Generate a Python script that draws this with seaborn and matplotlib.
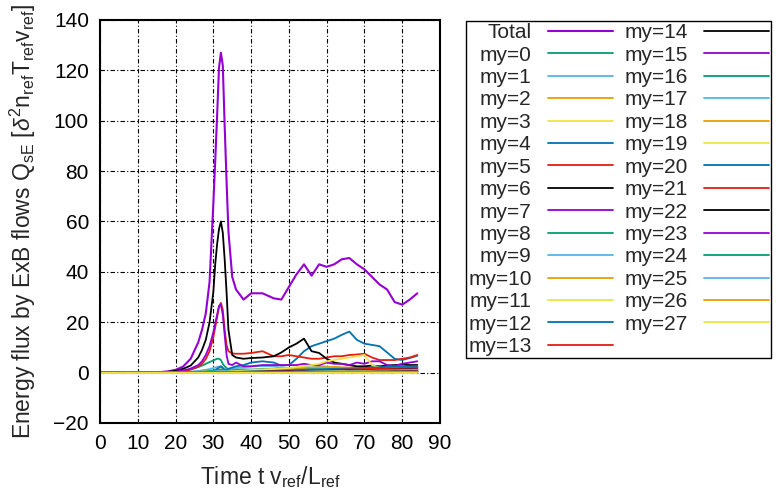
import matplotlib
matplotlib.use("Agg")
import matplotlib.pyplot as plt
import seaborn as sns

# time axis (t v_ref / L_ref)
time = [0, 10, 15, 18, 20, 22, 24, 26, 27, 28,
        29, 30, 30.5, 31, 31.5, 32, 32.5, 33, 33.5, 34,
        35, 36, 38, 40, 43, 46, 48, 50, 52, 54,
        56, 58, 60, 62, 64, 66, 68, 70, 72, 74,
        76, 78, 80, 82, 84]

total = [0, 0, 0.1, 0.5, 1.1, 2.4, 5.5, 12, 17, 23.5,
         36, 67, 84, 102, 121, 127, 122, 98, 76, 56,
         38, 33, 29, 31.5, 31.5, 29.5, 29, 34, 39, 43,
         38.5, 43, 42, 43, 45, 45.5, 43, 41, 38, 35,
         33, 28, 27, 29, 31.5]

my0 = [0, 0, 0, 0.1, 0.3, 0.7, 1.3, 2.2, 2.8, 3.5,
       4.2, 4.8, 5.2, 5.5, 5.5, 5, 3.5, 2.5, 1.8, 1.5,
       1.2, 1.2, 1.3, 1.2, 1.4, 1.3, 1.2, 1.4, 1.3, 1.5,
       1.4, 1.2, 1.3, 1.5, 1.4, 1.3, 1.2, 1.3, 1.4, 1.5,
       1.6, 1.5, 1.6, 1.8, 2]
my1 = [0, 0, 0, 0, 0.1, 0.2, 0.4, 0.7, 0.9, 1.1,
       1.4, 1.8, 2, 2.2, 2.4, 2.5, 2, 1.5, 1.3, 1.2,
       1.4, 1.8, 2.2, 2.5, 2.6, 2.4, 2, 1.8, 2, 2.5,
       2.8, 2.6, 2.4, 2.2, 2, 1.9, 1.7, 1.6, 1.5, 1.4,
       1.3, 1.5, 1.7, 2, 2.2]
my2 = [0, 0, 0, 0, 0, 0.1, 0.2, 0.3, 0.4, 0.5,
       0.7, 0.9, 1, 1.1, 1.2, 1.3, 1, 0.8, 0.7, 0.6,
       0.7, 0.8, 1, 1.1, 1.2, 1.3, 1.4, 1.5, 1.6, 1.8,
       2, 2.1, 2.2, 2.3, 2.1, 2, 2.2, 2.4, 2, 1.8,
       1.6, 1.7, 1.9, 2.1, 2.3]
my3 = [0, 0, 0, 0, 0, 0, 0.1, 0.1, 0.15, 0.2,
       0.3, 0.4, 0.45, 0.5, 0.55, 0.6, 0.5, 0.4, 0.35, 0.3,
       0.3, 0.4, 0.5, 0.6, 0.7, 0.8, 0.8, 0.9, 1, 1.1,
       1.2, 1.3, 1.4, 1.5, 1.6, 1.7, 1.8, 1.9, 1.7, 1.5,
       1.4, 1.3, 1.4, 1.5, 1.6]
my4 = [0, 0, 0, 0, 0, 0, 0, 0.1, 0.15, 0.2,
       0.3, 0.5, 1, 1.5, 2, 2.5, 1.8, 1, 1.2, 1.5,
       2, 2.5, 3, 4, 4.5, 4, 2.8, 3, 5.5, 8.5,
       10.5, 11.5, 12.5, 13.5, 15, 16.3, 13, 11.5, 11, 10.5,
       8, 5.5, 5, 5.8, 6.7]
my5 = [0, 0, 0, 0.1, 0.3, 0.6, 1.2, 2.3, 3.5, 5.4,
       8.5, 14, 18, 22, 26, 27.7, 25, 17, 11, 8.5,
       7.6, 7.5, 7.5, 7.8, 8.5, 6.5, 6.5, 7, 6.5, 6,
       5.5, 5.5, 6, 6.5, 6.5, 7, 7.2, 7.5, 6, 5,
       5, 5, 5.5, 6, 7]
my6 = [0, 0, 0, 0.3, 0.7, 1.5, 2.8, 6, 9, 13,
       20, 32, 43, 51, 57, 60, 55.6, 45, 32, 17,
       7, 6, 5.5, 5.8, 6, 6.5, 8, 10, 11.5, 13.5,
       8.5, 7.8, 5.5, 4, 3.5, 3, 2.5, 2.5, 2.8, 2.5,
       2.8, 3, 3.2, 3, 3]
my7 = [0, 0, 0, 0.1, 0.3, 0.8, 1.6, 3, 4.5, 7,
       10.5, 16, 19.5, 23, 26.5, 27, 23, 15, 7, 3.5,
       3, 4, 2.5, 2.5, 3, 3, 3, 3, 3, 3.5,
       3, 3, 4, 3.5, 3.5, 3, 4, 3.5, 4.5, 4.5,
       3, 2.7, 3.5, 4, 4.5]
my8 = [0, 0, 0, 0, 0, 0, 0.1, 0.2, 0.3, 0.4,
       0.6, 0.8, 0.9, 1, 1.1, 1.2, 1, 0.9, 0.8, 0.7,
       0.8, 0.9, 1, 1.1, 1, 0.9, 1, 1.1, 1.2, 1.3,
       1.4, 1.3, 1.2, 1.1, 1.2, 1.3, 1.4, 1.3, 1.2, 1.1,
       1.2, 1.3, 1.4, 1.5, 1.6]
my9 = [0, 0, 0, 0, 0, 0, 0, 0.1, 0.15, 0.2,
       0.3, 0.4, 0.5, 0.6, 0.7, 0.8, 0.7, 0.6, 0.55, 0.5,
       0.6, 0.7, 0.8, 0.9, 1, 1.1, 1.1, 1, 1, 0.9,
       1, 1.1, 1.2, 1.3, 1.4, 1.3, 1.2, 1.1, 1.2, 1.3,
       1.4, 1.3, 1.2, 1.3, 1.4]
my10 = [0, 0, 0, 0, 0, 0, 0, 0, 0.05, 0.1,
        0.1, 0.2, 0.25, 0.3, 0.35, 0.4, 0.35, 0.3, 0.3, 0.3,
        0.4, 0.5, 0.6, 0.7, 0.8, 0.9, 1, 1.1, 1.2, 1.3,
        1.2, 1.1, 1, 1.1, 1.2, 1.3, 1.4, 1.3, 1.2, 1.1,
        1, 1.1, 1.2, 1.3, 1.4]
my11 = [0, 0, 0, 0, 0, 0, 0, 0, 0, 0,
        0, 0, 0.05, 0.1, 0.15, 0.2, 0.25, 0.3, 0.35, 0.4,
        0.5, 0.6, 0.8, 1, 1.2, 1.4, 1.6, 1.8, 2.2, 2.6,
        3, 3.5, 4.5, 5, 5.5, 6, 6.5, 7, 3, 2,
        1.8, 1.6, 1.5, 1.4, 1.5]
my12 = [0, 0, 0, 0, 0, 0, 0, 0, 0, 0,
        0.1, 0.1, 0.15, 0.2, 0.25, 0.3, 0.25, 0.2, 0.2, 0.2,
        0.3, 0.3, 0.4, 0.5, 0.6, 0.7, 0.8, 0.9, 1, 1.1,
        1.2, 1.3, 1.4, 1.5, 1.6, 1.7, 1.8, 1.9, 2, 2.1,
        2.2, 2.3, 2.4, 2.5, 2.6]
my13 = [0, 0, 0, 0, 0, 0, 0, 0, 0, 0,
        0, 0.1, 0.1, 0.1, 0.15, 0.2, 0.15, 0.1, 0.1, 0.1,
        0.2, 0.2, 0.3, 0.3, 0.4, 0.5, 0.5, 0.6, 0.7, 0.8,
        0.9, 1, 1, 1.1, 1.2, 1.3, 1.3, 1.4, 1.5, 1.5,
        1.6, 1.7, 1.8, 1.9, 2]
my14 = [0, 0, 0, 0, 0, 0, 0, 0, 0, 0,
        0, 0, 0, 0.1, 0.1, 0.1, 0.1, 0.1, 0.1, 0.1,
        0.1, 0.2, 0.2, 0.3, 0.3, 0.4, 0.4, 0.5, 0.5, 0.6,
        0.6, 0.7, 0.7, 0.8, 0.8, 0.9, 0.9, 1, 1, 1.1,
        1.1, 1.2, 1.2, 1.3, 1.3]
my15 = [0, 0, 0, 0, 0, 0, 0, 0, 0, 0,
        0, 0, 0, 0, 0, 0.1, 0.1, 0.1, 0.1, 0.1,
        0.1, 0.1, 0.2, 0.2, 0.3, 0.3, 0.4, 0.4, 0.5, 0.5,
        0.6, 0.6, 0.7, 0.7, 0.8, 0.8, 0.9, 0.9, 1, 1,
        1, 1.1, 1.1, 1.2, 1.2]
my16 = [0, 0, 0, 0, 0, 0, 0, 0, 0, 0,
        0, 0, 0, 0, 0, 0, 0, 0.1, 0.1, 0.1,
        0.1, 0.1, 0.1, 0.2, 0.2, 0.2, 0.3, 0.3, 0.4, 0.4,
        0.5, 0.5, 0.6, 0.6, 0.7, 0.7, 0.8, 0.8, 0.8, 0.9,
        0.9, 1, 1, 1, 1.1]
my17 = [0, 0, 0, 0, 0, 0, 0, 0, 0, 0,
        0, 0, 0, 0, 0, 0, 0, 0, 0, 0.1,
        0.1, 0.1, 0.1, 0.1, 0.2, 0.2, 0.2, 0.3, 0.3, 0.3,
        0.4, 0.4, 0.5, 0.5, 0.6, 0.6, 0.6, 0.7, 0.7, 0.8,
        0.8, 0.8, 0.9, 0.9, 1]
my18 = [0, 0, 0, 0, 0, 0, 0, 0, 0, 0,
        0, 0, 0, 0, 0, 0, 0, 0, 0, 0,
        0.1, 0.1, 0.1, 0.1, 0.1, 0.2, 0.2, 0.2, 0.3, 0.3,
        0.3, 0.4, 0.4, 0.4, 0.5, 0.5, 0.5, 0.6, 0.6, 0.6,
        0.7, 0.7, 0.7, 0.8, 0.8]
my19 = [0, 0, 0, 0, 0, 0, 0, 0, 0, 0,
        0, 0, 0, 0, 0, 0, 0, 0, 0, 0,
        0, 0.1, 0.1, 0.1, 0.1, 0.1, 0.2, 0.2, 0.2, 0.2,
        0.3, 0.3, 0.3, 0.4, 0.4, 0.4, 0.5, 0.5, 0.5, 0.5,
        0.6, 0.6, 0.6, 0.7, 0.7]
my20 = [0, 0, 0, 0, 0, 0, 0, 0, 0, 0,
        0, 0, 0, 0, 0, 0, 0, 0, 0, 0,
        0, 0, 0.1, 0.1, 0.1, 0.1, 0.1, 0.2, 0.2, 0.2,
        0.2, 0.3, 0.3, 0.3, 0.3, 0.4, 0.4, 0.4, 0.4, 0.5,
        0.5, 0.5, 0.5, 0.6, 0.6]
my21 = [0, 0, 0, 0, 0, 0, 0, 0, 0, 0,
        0, 0, 0, 0, 0, 0, 0, 0, 0, 0,
        0, 0, 0, 0.1, 0.1, 0.1, 0.1, 0.1, 0.2, 0.2,
        0.2, 0.2, 0.2, 0.3, 0.3, 0.3, 0.3, 0.3, 0.4, 0.4,
        0.4, 0.4, 0.4, 0.5, 0.5]
my22 = [0, 0, 0, 0, 0, 0, 0, 0, 0, 0,
        0, 0, 0, 0, 0, 0, 0, 0, 0, 0,
        0, 0, 0, 0, 0.1, 0.1, 0.1, 0.1, 0.1, 0.1,
        0.2, 0.2, 0.2, 0.2, 0.2, 0.3, 0.3, 0.3, 0.3, 0.3,
        0.3, 0.4, 0.4, 0.4, 0.4]
my23 = [0, 0, 0, 0, 0, 0, 0, 0, 0, 0,
        0, 0, 0, 0, 0, 0, 0, 0, 0, 0,
        0, 0, 0, 0, 0, 0.1, 0.1, 0.1, 0.1, 0.1,
        0.1, 0.1, 0.2, 0.2, 0.2, 0.2, 0.2, 0.2, 0.3, 0.3,
        0.3, 0.3, 0.3, 0.3, 0.3]
my24 = [0, 0, 0, 0, 0, 0, 0, 0, 0, 0,
        0, 0, 0, 0, 0, 0, 0, 0, 0, 0,
        0, 0, 0, 0, 0, 0, 0.1, 0.1, 0.1, 0.1,
        0.1, 0.1, 0.1, 0.1, 0.2, 0.2, 0.2, 0.2, 0.2, 0.2,
        0.2, 0.2, 0.2, 0.2, 0.2]
my25 = [0, 0, 0, 0, 0, 0, 0, 0, 0, 0,
        0, 0, 0, 0, 0, 0, 0, 0, 0, 0,
        0, 0, 0, 0, 0, 0, 0, 0, 0.1, 0.1,
        0.1, 0.1, 0.1, 0.1, 0.1, 0.1, 0.1, 0.1, 0.1, 0.1,
        0.1, 0.1, 0.1, 0.1, 0.1]
my26 = [0, 0, 0, 0, 0, 0, 0, 0, 0, 0,
        0, 0, 0, 0, 0, 0, 0, 0, 0, 0,
        0, 0, 0, 0, 0, 0, 0, 0, 0, 0,
        0, 0.1, 0.1, 0.1, 0.1, 0.1, 0.1, 0.1, 0.1, 0.1,
        0.1, 0.1, 0.1, 0.1, 0.1]
my27 = [0, 0, 0, 0, 0, 0, 0, 0, 0, 0,
        0, 0, 0, 0, 0, 0, 0, 0, 0, 0,
        0, 0, 0, 0, 0, 0, 0, 0, 0, 0,
        0, 0, 0, 0, 0, 0, 0, 0, 0, 0,
        0, 0, 0, 0, 0]

modes = [my0, my1, my2, my3, my4, my5, my6, my7, my8, my9,
         my10, my11, my12, my13, my14, my15, my16, my17, my18, my19,
         my20, my21, my22, my23, my24, my25, my26, my27]

# gnuplot-style default line colours
colors = ["#9400d3", "#009e73", "#56b4e9", "#e69f00",
          "#f0e442", "#0072b2", "#e51e10", "#000000"]

sns.set_style("white")
plt.rcParams["font.family"] = ["Liberation Sans", "DejaVu Sans"]
plt.rcParams["mathtext.fontset"] = "custom"
plt.rcParams["mathtext.rm"] = "Liberation Sans"
plt.rcParams["mathtext.it"] = "Liberation Sans:italic"

fig = plt.figure(figsize=(7.77, 4.92), dpi=100)
ax = fig.add_axes([100 / 777, 69 / 492, 340 / 777, 403 / 492])

sns.lineplot(x=time, y=total, ax=ax, color=colors[0], lw=1.5, label="Total")
for i, vals in enumerate(modes):
    sns.lineplot(x=time, y=vals, ax=ax, color=colors[(i + 1) % 8], lw=1.3, label=f"my={i}")

ax.set_xlim(0, 90)
ax.set_ylim(-20, 140)
ax.set_xticks(range(0, 91, 10))
ax.set_yticks(range(-20, 141, 20))
ax.grid(True, color="black", linestyle=(0, (4, 2, 1, 2)), lw=0.8)
ax.tick_params(direction="in", length=4, labelsize=15, colors="black", pad=8)
for s in ax.spines.values():
    s.set_color("black")
    s.set_linewidth(1.5)

ax.set_xlabel(r"Time t v$_{\rm ref}$/L$_{\rm ref}$", fontsize=16.5, labelpad=8)
ax.set_ylabel(r"Energy flux by ExB flows Q$_{\rm sE}$ [$\delta^2$n$_{\rm ref}$T$_{\rm ref}$v$_{\rm ref}$]",
              fontsize=16.5, labelpad=11)

handles, labels = ax.get_legend_handles_labels()
ax.get_legend().remove()
fig.legend(handles, labels, ncol=2, loc="upper left",
           bbox_to_anchor=(466 / 777, 1 - 21 / 492), markerfirst=False,
           fontsize=15, frameon=True, fancybox=False, edgecolor="black",
           framealpha=1, borderpad=0.1, labelspacing=0.165, handlelength=3.1,
           handletextpad=0.8, columnspacing=0.55, borderaxespad=0)

fig.savefig("out.png", dpi=100)
